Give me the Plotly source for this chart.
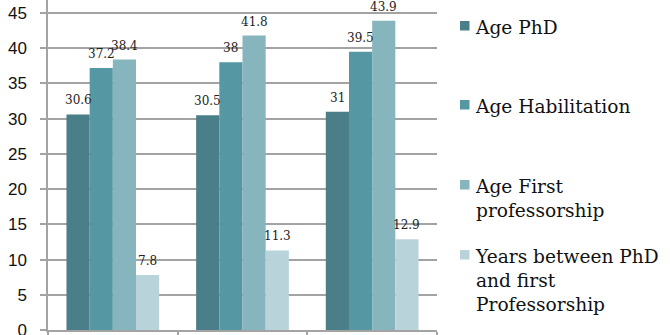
import plotly.graph_objects as go

# ---- data ----
groups = ["Group 1", "Group 2", "Group 3"]
series_names = [
    "Age PhD",
    "Age Habilitation",
    "Age First<br>professorship",
    "Years between PhD<br>and first<br>Professorship",
]
age_phd = [30.6, 30.5, 31]
age_habilitation = [37.2, 38, 39.5]
age_first_professorship = [38.4, 41.8, 43.9]
years_phd_to_professorship = [7.8, 11.3, 12.9]
y_tick_values = [0, 5, 10, 15, 20, 25, 30, 35, 40, 45]

series_values = [age_phd, age_habilitation, age_first_professorship, years_phd_to_professorship]
colors = ["#4a7e88", "#5597a3", "#87b5be", "#b9d3da"]

# ---- geometry ----
W, H = 670, 335
ML, MR, MT, MB = 48, 233, 0, 5
PW, PH = W - ML - MR, H - MT - MB
BARGAP = 0.285
Y_MAX = 46.85

label_font = dict(family="DejaVu Serif", size=12, color="#222222")
legend_font = dict(family="DejaVu Serif", size=18.6, color="#111111")
grid_color = "#a3a3a3"

fig = go.Figure()
for name, vals, col in zip(series_names, series_values, colors):
    fig.add_trace(go.Bar(
        x=groups, y=vals, name=name, marker_color=col,
        marker_line_width=0, showlegend=False,
    ))

# value labels above each bar
bar_px = PW / len(groups) * (1 - BARGAP) / len(series_values)
annotations = []
for i, vals in enumerate(series_values):
    off = (i - (len(series_values) - 1) / 2) * bar_px
    for g, v in zip(groups, vals):
        annotations.append(dict(
            x=g, y=v, xref="x", yref="y", text=f"{v:g}", showarrow=False,
            xanchor="center", yanchor="bottom", xshift=off, yshift=5,
            font=label_font,
        ))

# legend drawn beside the plot
def px_x(p):
    return (p - ML) / PW

def px_y(p):
    return (MT + PH - p) / PH

baselines = [33, 112, 192, 262]
shapes = []
for name, col, b in zip(series_names, colors, baselines):
    shapes.append(dict(
        type="rect", xref="paper", yref="paper",
        x0=px_x(460), x1=px_x(469.5), y0=px_y(b - 2.5), y1=px_y(b - 12),
        fillcolor=col, line_width=0,
    ))
    annotations.append(dict(
        x=px_x(473), y=px_y(b - 18.4), xref="paper", yref="paper",
        text=name, showarrow=False, xanchor="left", yanchor="top",
        align="left", font=legend_font,
    ))

fig.update_layout(
    width=W, height=H,
    margin=dict(l=ML, r=MR, t=MT, b=MB, pad=0, autoexpand=False),
    paper_bgcolor="white", plot_bgcolor="white",
    barmode="group", bargap=BARGAP, bargroupgap=0,
    annotations=annotations, shapes=shapes,
    xaxis=dict(
        type="category", showticklabels=False, showgrid=False,
        showline=True, linecolor=grid_color, linewidth=1.5,
        ticks="outside", tickson="boundaries", ticklen=6,
        tickcolor=grid_color, tickwidth=1.5, automargin=False,
    ),
    yaxis=dict(
        range=[0, Y_MAX], tickvals=y_tick_values,
        showgrid=True, gridcolor=grid_color, gridwidth=1.5,
        showline=True, linecolor=grid_color, linewidth=1.5,
        ticks="outside", ticklen=6, tickcolor=grid_color, tickwidth=1.5,
        ticklabelstandoff=10, ticklabeloverflow="allow", zeroline=False,
        automargin=False,
        tickfont=dict(family="Liberation Sans", size=17, color="#111111"),
    ),
)

fig.write_html("out.html")
